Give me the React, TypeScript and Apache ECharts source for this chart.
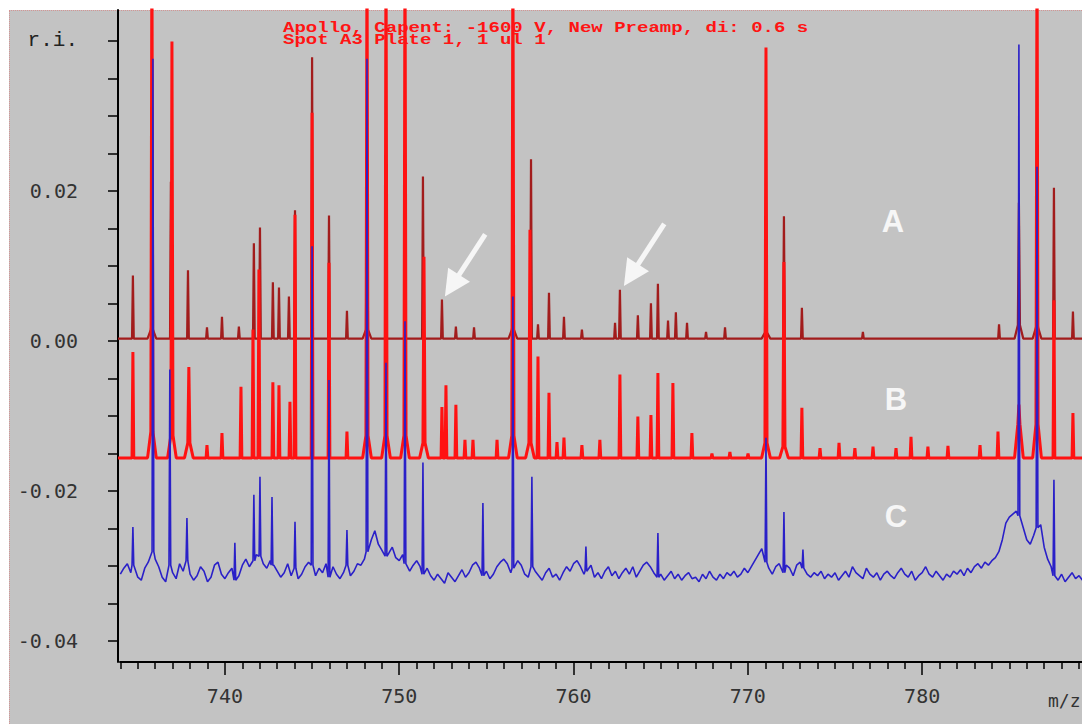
import { useEffect, useRef } from 'react';
import * as echarts from 'echarts';

// ---------- axis ranges ----------
const X_MIN = 733.98;
const X_MAX = 789.17;
const Y_MIN = -0.0428;
const Y_MAX = 0.0441;

// ---------- tick values / labels ----------
const xMajorTicks = [740, 750, 760, 770, 780];
const xMinorTicks = [734, 735, 736, 737, 738, 739, 741, 742, 743, 744, 745, 746, 747, 748, 749, 751, 752, 753, 754, 755, 756, 757, 758, 759, 761, 762, 763, 764, 765, 766, 767, 768, 769, 771, 772, 773, 774, 775, 776, 777, 778, 779, 781, 782, 783, 784, 785, 786, 787, 788, 789];
const yTickValues = [-0.04, -0.035, -0.03, -0.025, -0.02, -0.015, -0.01, -0.005, 0, 0.005, 0.01, 0.015, 0.02, 0.025, 0.03, 0.035, 0.04];
const yLabelValues = [-0.04, -0.02, 0, 0.02, 0.04];
const yLabelTexts = ['-0.04', '-0.02', '0.00', '0.02', 'r.i.'];

// ---------- trace baselines (r.i.) ----------
const baselineA = 0.0003;
const baselineB = -0.0156;
const baselineC = -0.0305;

// ---------- peaks: [m/z, height above baseline, skirt height (optional)] ----------
const peaksA: number[][] = [
  [734.72, 0.0084], [735.81, 0.0025, 0.0012], [736.90, 0.0209], [737.88, 0.0091],
  [738.97, 0.0015], [739.83, 0.0029], [740.80, 0.0016], [741.66, 0.0127],
  [742.01, 0.0148], [742.75, 0.0075], [743.10, 0.0068], [743.67, 0.0056],
  [744.02, 0.0171], [745.00, 0.0375], [745.97, 0.0164], [747.00, 0.0037],
  [748.15, 0.0252, 0.0012], [749.24, 0.0209], [750.33, 0.0236], [751.36, 0.0216],
  [752.45, 0.0052], [753.25, 0.0016], [754.29, 0.0015], [756.52, 0.0022, 0.0012],
  [757.56, 0.0239], [757.96, 0.0019], [758.59, 0.0061], [759.45, 0.0029],
  [760.48, 0.0012], [762.38, 0.0021], [762.66, 0.0065], [763.69, 0.0031],
  [764.44, 0.0047], [764.84, 0.0073], [765.42, 0.0024], [765.87, 0.0035],
  [766.51, 0.0021], [767.60, 0.0009], [768.69, 0.0015], [771.04, 0.0185, 0.0008],
  [772.07, 0.0163], [773.10, 0.0041], [776.60, 0.0009], [784.41, 0.0019],
  [785.55, 0.0181, 0.0018], [786.59, 0.0028, 0.0015], [787.56, 0.0201], [788.65, 0.0036],
];

const peaksB: number[][] = [
  [734.72, 0.0141], [735.81, 0.07, 0.0035], [736.96, 0.0555, 0.003], [737.93, 0.0121, 0.002],
  [738.97, 0.0017], [739.83, 0.0033], [740.92, 0.0095], [741.61, 0.0171],
  [741.95, 0.0251], [742.75, 0.0101], [743.10, 0.0097], [743.73, 0.0075],
  [744.02, 0.0324], [745.00, 0.0460], [745.97, 0.0260], [747.00, 0.0035],
  [748.15, 0.07, 0.003], [749.24, 0.07, 0.003], [750.33, 0.07, 0.003], [751.42, 0.0268, 0.002],
  [752.45, 0.0068], [752.68, 0.0097], [753.25, 0.0071], [753.77, 0.0024],
  [754.23, 0.0024], [755.61, 0.0024], [756.52, 0.07, 0.003], [757.50, 0.0304, 0.002],
  [757.96, 0.0135], [758.59, 0.0087], [759.05, 0.0021], [759.45, 0.0027],
  [760.48, 0.0017], [761.51, 0.0024], [762.66, 0.0111], [763.69, 0.0055],
  [764.44, 0.0057], [764.84, 0.0113], [765.70, 0.0100], [766.79, 0.0033],
  [767.94, 0.0006], [768.97, 0.0008], [770.01, 0.0006], [771.04, 0.0547, 0.002],
  [772.07, 0.0261, 0.0015], [773.10, 0.0067], [774.14, 0.0013], [775.23, 0.0020],
  [776.14, 0.0013], [777.18, 0.0015], [778.50, 0.0013], [779.36, 0.0028],
  [780.33, 0.0015], [781.48, 0.0016], [783.32, 0.0017], [784.35, 0.0035],
  [785.55, 0.0071, 0.0045], [786.59, 0.07, 0.0045], [787.56, 0.0210], [788.65, 0.0060],
];

const peaksC: number[][] = [
  [734.72, 0.0057], [735.87, 0.0681], [736.84, 0.0267], [737.82, 0.0069],
  [740.57, 0.0036], [741.66, 0.0100], [742.01, 0.0124], [742.70, 0.0097],
  [744.02, 0.0064], [745.00, 0.0431], [745.97, 0.0253], [747.00, 0.0053],
  [748.15, 0.0681], [749.24, 0.0276], [750.33, 0.0331], [751.36, 0.0143],
  [754.80, 0.0089], [756.52, 0.0364], [757.61, 0.0124], [760.71, 0.0031],
  [764.84, 0.0049], [771.04, 0.0176], [772.07, 0.0077], [773.16, 0.0027],
  [785.55, 0.07], [786.59, 0.0537], [787.56, 0.0120],
];

const noiseCStart = 734.0;
const noiseCStep = 0.2;
const noiseC = [
  -6, 2, 8, -4, 6, -10, -14, 2, 10, 24, 14, 4, -10, -16, 6, -4, -12, 8, -2, 12,
  -6, -14, -8, 4, -2, -16, -10, 6, 10, -6, -12, -4, 2, -14, -8, 6, 14, 4, 12, 20,
  18, 8, 2, 12, 6, -2, -10, -4, 8, -8, 2, -12, -6, 4, 10, 6, -8, 2, -4, 8,
  -10, 4, -6, -12, -4, 6, -8, -2, 8, 6, 14, 24, 40, 52, 34, 26, 18, 22, 30, 16,
  12, 20, 8, -2, 6, 12, 4, -6, 2, -8, -14, -6, -12, -18, -4, -10, -16, -8, 0, -10,
  -4, 6, 10, 2, -8, -2, -12, -6, 4, 10, 14, 8, -4, 2, 12, 6, -6, -10, 4, -2,
  -8, -14, -4, 2, -10, -6, -14, -4, 4, -2, 8, 12, 4, -6, -2, 6, -10, -4, -12, -2,
  4, -8, -2, -12, -4, 2, -6, 4, -10, -2, 6, 10, 4, -4, -10, -6, -14, -8, -2, -12,
  -6, -14, -8, -4, -12, -10, -16, -6, -12, -2, -10, -14, -6, -12, -4, -8, -2, -10, -6, 2,
  -4, 4, 12, 20, 28, 10, 2, -6, 4, 8, -4, 6, 2, -8, 6, 10, 2, -6, -10, -4,
  -8, -2, -12, -6, -10, -4, -14, -8, -2, -10, 4, -4, -8, -12, 2, -6, -10, -4, -14, -6,
  -2, -8, -12, -4, 2, -6, -10, -2, -14, -8, -4, 4, -6, -10, -2, -8, -14, -6, -10, -2,
  -6, 0, -8, 2, -4, 4, 8, 2, 10, 6, 12, 16, 24, 40, 62, 70, 74, 78, 72, 56,
  40, 34, 46, 56, 60, 30, 14, 4, -8, -14, -6, -16, -10, -4, -12, -8, -14,
];

// ---------- annotations ----------
const traceLabels = [
  { text: 'A', x: 893, y: 221 },
  { text: 'B', x: 896, y: 399 },
  { text: 'C', x: 896, y: 516 },
];
const arrowTips: number[][] = [[752.62, 0.0059], [762.89, 0.0073]];
const titleLines = ['Apollo, Capent: -1600 V, New Preamp, di: 0.6 s', 'Spot A3 Plate 1, 1 ul 1'];

function pushPeak(pts: number[][], mz: number, top: number, b: number, s?: number) {
  if (s) {
    pts.push([mz - 0.25, b], [mz - 0.06, b + s], [mz, top], [mz + 0.06, b + s], [mz + 0.25, b]);
  } else {
    pts.push([mz - 0.05, b], [mz, top], [mz + 0.05, b]);
  }
}

function buildTrace(peaks: number[][], base: number): number[][] {
  const pts: number[][] = [[X_MIN - 1, base], [X_MAX + 1, base]];
  for (const p of peaks) pushPeak(pts, p[0], base + p[1], base, p[2]);
  pts.sort((a, b) => a[0] - b[0]);
  return pts;
}

function buildNoisyTrace(peaks: number[][], base: number): number[][] {
  const pts: number[][] = [];
  const near = (mz: number) => peaks.some((p) => Math.abs(p[0] - mz) < (p[2] ? 0.28 : 0.08));
  noiseC.forEach((n, i) => {
    const mz = noiseCStart + i * noiseCStep;
    if (!near(mz)) pts.push([mz, base + n * 1e-4]);
  });
  const localBase = (mz: number) => {
    const i = Math.max(0, Math.min(noiseC.length - 1, Math.round((mz - noiseCStart) / noiseCStep)));
    return base + noiseC[i] * 1e-4;
  };
  for (const p of peaks) pushPeak(pts, p[0], base + p[1], localBase(p[0]), p[2]);
  pts.sort((a, b) => a[0] - b[0]);
  return pts;
}

export default function App() {
  const ref = useRef<HTMLDivElement>(null);

  useEffect(() => {
    document.body.style.margin = '0';
    const chart = echarts.init(ref.current!, undefined, { renderer: 'svg' });
    const axisFont = '"DejaVu Sans Mono", monospace';

    chart.setOption({
      animation: false,
      backgroundColor: 'transparent',
      grid: { left: 120, right: 0, top: 10, bottom: 62, containLabel: false, outerBoundsMode: 'none' },
      xAxis: [
        {
          type: 'value', min: X_MIN, max: X_MAX, position: 'bottom',
          axisLine: { show: true, onZero: false, lineStyle: { color: '#000', width: 2 } },
          axisTick: { show: true, customValues: xMajorTicks, length: 13, lineStyle: { color: '#000', width: 1.5 } },
          axisLabel: { show: true, customValues: xMajorTicks, margin: 24, color: '#333', fontFamily: axisFont, fontSize: 20 },
          splitLine: { show: false },
        },
        {
          type: 'value', min: X_MIN, max: X_MAX, position: 'bottom',
          axisLine: { show: false, onZero: false },
          axisTick: { show: true, customValues: xMinorTicks, length: 7, lineStyle: { color: '#000', width: 1.5 } },
          axisLabel: { show: false },
          splitLine: { show: false },
        },
      ],
      yAxis: {
        type: 'value', min: Y_MIN, max: Y_MAX, offset: 2,
        axisLine: { show: true, onZero: false, lineStyle: { color: '#000', width: 2 } },
        axisTick: { show: true, customValues: yTickValues, length: 10, lineStyle: { color: '#000', width: 1.5 } },
        axisLabel: {
          show: true, customValues: yLabelValues, margin: 40, color: '#333', fontFamily: axisFont, fontSize: 20,
          formatter: (v: number) => {
            const i = yLabelValues.findIndex((u) => Math.abs(u - v) < 1e-9);
            if (i < 0) return '';
            return i === yLabelValues.length - 1 ? '{ri|' + yLabelTexts[i] + '}' : yLabelTexts[i];
          },
          rich: { ri: { fontFamily: '"Liberation Mono", monospace', fontSize: 21, color: '#222' } },
        },
        splitLine: { show: false },
      },
      series: [
        {
          name: 'A', type: 'line', xAxisIndex: 0, data: buildTrace(peaksA, baselineA),
          showSymbol: false, symbol: 'none', clip: true, z: 2,
          lineStyle: { color: '#a21c1c', width: 2.2, join: 'bevel' },
        },
        {
          name: 'B', type: 'line', xAxisIndex: 0, data: buildTrace(peaksB, baselineB),
          showSymbol: false, symbol: 'none', clip: true, z: 3,
          lineStyle: { color: '#ff1212', width: 3, join: 'bevel' },
        },
        {
          name: 'C', type: 'line', xAxisIndex: 0, data: buildNoisyTrace(peaksC, baselineC),
          showSymbol: false, symbol: 'none', clip: true, z: 4,
          lineStyle: { color: '#2a20c8', width: 1.6, join: 'bevel' },
        },
      ],
    });

    // annotations
    const white = '#f6f6f6';
    const graphics: any[] = [
      {
        type: 'text', x: 283, y: 28, scaleX: 1.27, z: 100,
        style: { text: titleLines[0], font: 'bold 15px "Liberation Mono", monospace', fill: '#ff1414', textVerticalAlign: 'middle', verticalAlign: 'middle' },
      },
      {
        type: 'text', x: 283, y: 40, scaleX: 1.27, z: 100,
        style: { text: titleLines[1], font: 'bold 15px "Liberation Mono", monospace', fill: '#ff1414', textVerticalAlign: 'middle', verticalAlign: 'middle' },
      },
      {
        type: 'text', x: 1048, y: 700, z: 100,
        style: { text: 'm/z', font: '18px "DejaVu Sans Mono", monospace', fill: '#333', textVerticalAlign: 'middle', verticalAlign: 'middle' },
      },
    ];
    traceLabels.forEach((l) => {
      graphics.push({
        type: 'text', x: l.x, y: l.y, z: 100,
        style: { text: l.text, font: 'bold 31px "Liberation Sans", Arial, sans-serif', fill: white, textAlign: 'center', textVerticalAlign: 'middle', align: 'center', verticalAlign: 'middle' },
      });
    });
    const dx = 0.545, dy = -0.84;
    const len = 74, headLen = 26, headHalf = 13;
    arrowTips.forEach((tip) => {
      const p = chart.convertToPixel({ xAxisIndex: 0, yAxisIndex: 0 }, tip) as number[];
      const tx = p[0], ty = p[1];
      const bx = tx + dx * headLen, by = ty + dy * headLen;
      const nx = -dy, ny = dx;
      graphics.push({
        type: 'line', z: 100,
        shape: { x1: bx - dx * 2, y1: by - dy * 2, x2: tx + dx * len, y2: ty + dy * len },
        style: { stroke: white, lineWidth: 5 },
      });
      graphics.push({
        type: 'polygon', z: 100,
        shape: { points: [[tx, ty], [bx + nx * headHalf, by + ny * headHalf], [bx - nx * headHalf, by - ny * headHalf]] },
        style: { fill: white },
      });
    });
    chart.setOption({ graphic: graphics });

    return () => chart.dispose();
  }, []);

  return (
    <div style={{ position: 'relative', width: 1082, height: 724, background: '#ffffff', overflow: 'hidden' }}>
      <div
        style={{
          position: 'absolute', left: 9, top: 10, right: 0, bottom: 0, background: '#c3c3c3',
          borderTop: '1px dotted #d49494', borderLeft: '1px dotted #d49494',
        }}
      />
      <div ref={ref} style={{ position: 'absolute', left: 0, top: 0, width: 1082, height: 724 }} />
    </div>
  );
}
